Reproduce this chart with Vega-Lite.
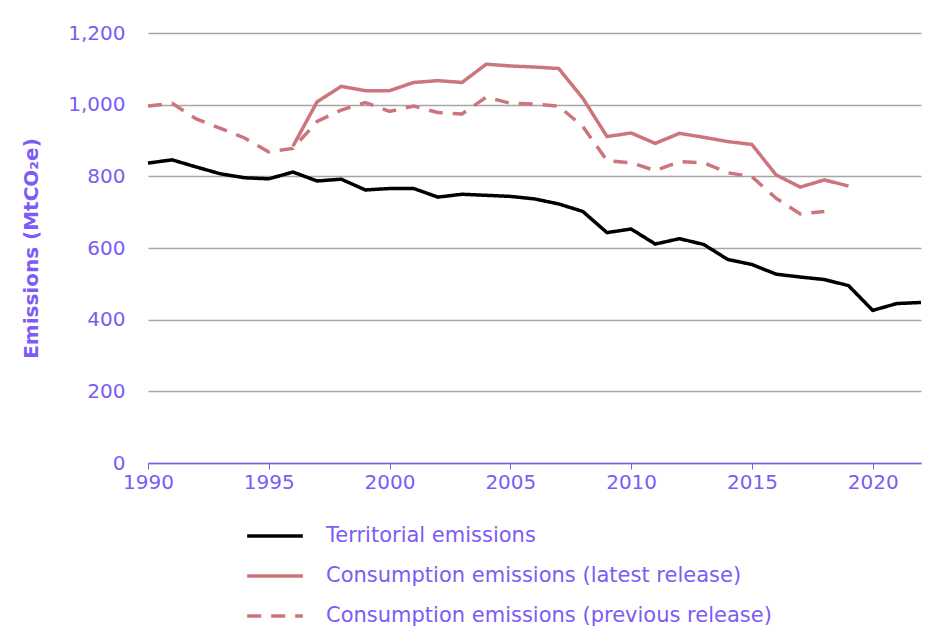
{
  "$schema": "https://vega.github.io/schema/vega-lite/v6.json",
  "autosize": {"type": "none"},
  "width": 773,
  "height": 430,
  "padding": {"left": 148, "top": 33, "right": 10, "bottom": 178},
  "background": "white",
  "config": {
    "view": {"stroke": null},
    "font": "DejaVu Sans"
  },
  "data": {
    "values": [
      {"year": 1990, "series": "Territorial emissions", "value": 837},
      {"year": 1991, "series": "Territorial emissions", "value": 846},
      {"year": 1992, "series": "Territorial emissions", "value": 826},
      {"year": 1993, "series": "Territorial emissions", "value": 807},
      {"year": 1994, "series": "Territorial emissions", "value": 796},
      {"year": 1995, "series": "Territorial emissions", "value": 793},
      {"year": 1996, "series": "Territorial emissions", "value": 812},
      {"year": 1997, "series": "Territorial emissions", "value": 787},
      {"year": 1998, "series": "Territorial emissions", "value": 792},
      {"year": 1999, "series": "Territorial emissions", "value": 762},
      {"year": 2000, "series": "Territorial emissions", "value": 766},
      {"year": 2001, "series": "Territorial emissions", "value": 766},
      {"year": 2002, "series": "Territorial emissions", "value": 742},
      {"year": 2003, "series": "Territorial emissions", "value": 750},
      {"year": 2004, "series": "Territorial emissions", "value": 747},
      {"year": 2005, "series": "Territorial emissions", "value": 744},
      {"year": 2006, "series": "Territorial emissions", "value": 737},
      {"year": 2007, "series": "Territorial emissions", "value": 723},
      {"year": 2008, "series": "Territorial emissions", "value": 702},
      {"year": 2009, "series": "Territorial emissions", "value": 643},
      {"year": 2010, "series": "Territorial emissions", "value": 653},
      {"year": 2011, "series": "Territorial emissions", "value": 611},
      {"year": 2012, "series": "Territorial emissions", "value": 626},
      {"year": 2013, "series": "Territorial emissions", "value": 610},
      {"year": 2014, "series": "Territorial emissions", "value": 568},
      {"year": 2015, "series": "Territorial emissions", "value": 554},
      {"year": 2016, "series": "Territorial emissions", "value": 527},
      {"year": 2017, "series": "Territorial emissions", "value": 519},
      {"year": 2018, "series": "Territorial emissions", "value": 512},
      {"year": 2019, "series": "Territorial emissions", "value": 495},
      {"year": 2020, "series": "Territorial emissions", "value": 426},
      {"year": 2021, "series": "Territorial emissions", "value": 445},
      {"year": 2022, "series": "Territorial emissions", "value": 448},

      {"year": 1996, "series": "Consumption emissions (latest release)", "value": 884},
      {"year": 1997, "series": "Consumption emissions (latest release)", "value": 1008},
      {"year": 1998, "series": "Consumption emissions (latest release)", "value": 1051},
      {"year": 1999, "series": "Consumption emissions (latest release)", "value": 1039},
      {"year": 2000, "series": "Consumption emissions (latest release)", "value": 1039},
      {"year": 2001, "series": "Consumption emissions (latest release)", "value": 1062},
      {"year": 2002, "series": "Consumption emissions (latest release)", "value": 1067},
      {"year": 2003, "series": "Consumption emissions (latest release)", "value": 1062},
      {"year": 2004, "series": "Consumption emissions (latest release)", "value": 1113},
      {"year": 2005, "series": "Consumption emissions (latest release)", "value": 1108},
      {"year": 2006, "series": "Consumption emissions (latest release)", "value": 1105},
      {"year": 2007, "series": "Consumption emissions (latest release)", "value": 1101},
      {"year": 2008, "series": "Consumption emissions (latest release)", "value": 1018},
      {"year": 2009, "series": "Consumption emissions (latest release)", "value": 911},
      {"year": 2010, "series": "Consumption emissions (latest release)", "value": 921},
      {"year": 2011, "series": "Consumption emissions (latest release)", "value": 892},
      {"year": 2012, "series": "Consumption emissions (latest release)", "value": 920},
      {"year": 2013, "series": "Consumption emissions (latest release)", "value": 909},
      {"year": 2014, "series": "Consumption emissions (latest release)", "value": 897},
      {"year": 2015, "series": "Consumption emissions (latest release)", "value": 889},
      {"year": 2016, "series": "Consumption emissions (latest release)", "value": 804},
      {"year": 2017, "series": "Consumption emissions (latest release)", "value": 770},
      {"year": 2018, "series": "Consumption emissions (latest release)", "value": 790},
      {"year": 2019, "series": "Consumption emissions (latest release)", "value": 773},

      {"year": 1990, "series": "Consumption emissions (previous release)", "value": 996},
      {"year": 1991, "series": "Consumption emissions (previous release)", "value": 1004},
      {"year": 1992, "series": "Consumption emissions (previous release)", "value": 960},
      {"year": 1993, "series": "Consumption emissions (previous release)", "value": 934},
      {"year": 1994, "series": "Consumption emissions (previous release)", "value": 907},
      {"year": 1995, "series": "Consumption emissions (previous release)", "value": 868},
      {"year": 1996, "series": "Consumption emissions (previous release)", "value": 878},
      {"year": 1997, "series": "Consumption emissions (previous release)", "value": 953},
      {"year": 1998, "series": "Consumption emissions (previous release)", "value": 985},
      {"year": 1999, "series": "Consumption emissions (previous release)", "value": 1006},
      {"year": 2000, "series": "Consumption emissions (previous release)", "value": 981},
      {"year": 2001, "series": "Consumption emissions (previous release)", "value": 996},
      {"year": 2002, "series": "Consumption emissions (previous release)", "value": 978},
      {"year": 2003, "series": "Consumption emissions (previous release)", "value": 974},
      {"year": 2004, "series": "Consumption emissions (previous release)", "value": 1021},
      {"year": 2005, "series": "Consumption emissions (previous release)", "value": 1004},
      {"year": 2006, "series": "Consumption emissions (previous release)", "value": 1002},
      {"year": 2007, "series": "Consumption emissions (previous release)", "value": 996},
      {"year": 2008, "series": "Consumption emissions (previous release)", "value": 939},
      {"year": 2009, "series": "Consumption emissions (previous release)", "value": 844},
      {"year": 2010, "series": "Consumption emissions (previous release)", "value": 838},
      {"year": 2011, "series": "Consumption emissions (previous release)", "value": 816},
      {"year": 2012, "series": "Consumption emissions (previous release)", "value": 841},
      {"year": 2013, "series": "Consumption emissions (previous release)", "value": 838},
      {"year": 2014, "series": "Consumption emissions (previous release)", "value": 810},
      {"year": 2015, "series": "Consumption emissions (previous release)", "value": 799},
      {"year": 2016, "series": "Consumption emissions (previous release)", "value": 739},
      {"year": 2017, "series": "Consumption emissions (previous release)", "value": 695},
      {"year": 2018, "series": "Consumption emissions (previous release)", "value": 702}
    ]
  },
  "mark": {"type": "line", "strokeWidth": 3.5, "strokeCap": "butt"},
  "encoding": {
    "x": {
      "field": "year",
      "type": "quantitative",
      "scale": {"domain": [1990, 2022], "nice": false, "zero": false},
      "axis": {
        "title": null,
        "values": [1990, 1995, 2000, 2005, 2010, 2015, 2020],
        "format": "d",
        "grid": false,
        "domainColor": "#7B5CF5",
        "domainWidth": 1.5,
        "tickColor": "#7B5CF5",
        "tickSize": 6,
        "tickWidth": 1,
        "labelColor": "#7B5CF5",
        "labelFontSize": 20,
        "labelPadding": 3,
        "labelFlush": false
      }
    },
    "y": {
      "field": "value",
      "type": "quantitative",
      "scale": {"domain": [0, 1200], "nice": false},
      "axis": {
        "title": "Emissions (MtCO₂e)",
        "titleColor": "#7B5CF5",
        "titleFontSize": 20,
        "titleFontWeight": "bold",
        "titlePadding": 26,
        "values": [0, 200, 400, 600, 800, 1000, 1200],
        "format": ",d",
        "domain": false,
        "ticks": false,
        "grid": true,
        "gridColor": "#A6A6A6",
        "gridWidth": 1.3,
        "labelColor": "#7B5CF5",
        "labelFontSize": 20,
        "labelPadding": 23
      }
    },
    "color": {
      "field": "series",
      "type": "nominal",
      "scale": {
        "domain": ["Territorial emissions", "Consumption emissions (latest release)", "Consumption emissions (previous release)"],
        "range": ["#000000", "#CC757D", "#CC757D"]
      },
      "legend": {
        "title": null,
        "orient": "none",
        "legendX": 97,
        "legendY": 473,
        "direction": "vertical",
        "symbolType": "stroke",
        "symbolSize": 3100,
        "symbolStrokeWidth": 3.5,
        "labelFontSize": 21,
        "labelColor": "#7B5CF5",
        "labelOffset": 21,
        "rowPadding": -3,
        "labelLimit": 600
      }
    },
    "strokeDash": {
      "field": "series",
      "type": "nominal",
      "scale": {
        "domain": ["Territorial emissions", "Consumption emissions (latest release)", "Consumption emissions (previous release)"],
        "range": [[1, 0], [1, 0], [14, 10]]
      },
      "legend": null
    }
  }
}
